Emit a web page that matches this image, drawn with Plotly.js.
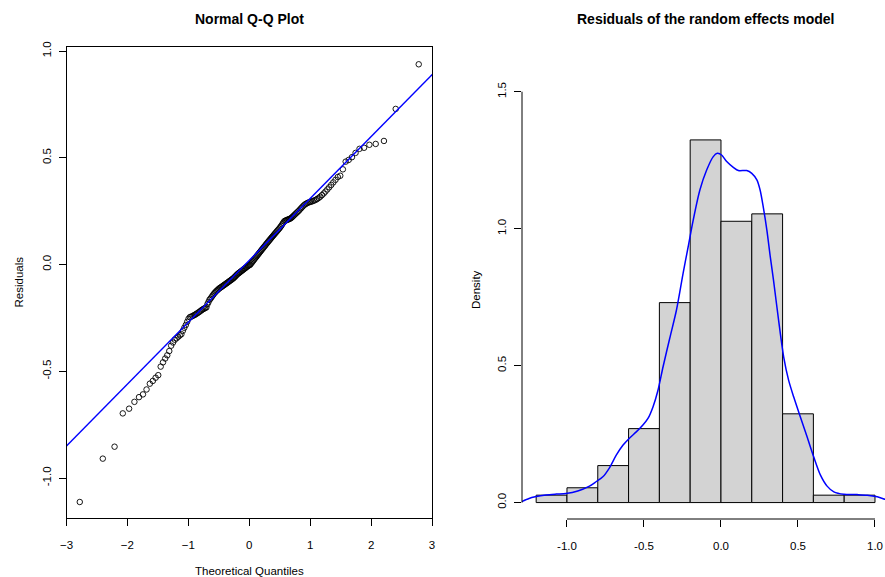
<!DOCTYPE html>
<html>
<head>
<meta charset="utf-8">
<script src="https://cdn.plot.ly/plotly-3.0.1.min.js"></script>
<style>html,body{margin:0;padding:0;background:#fff;}#chart{width:885px;height:577px;}</style>
</head>
<body>
<div id="chart"></div>
<script>
// ---- Q-Q plot data: theoretical normal quantiles and sorted residuals (n = 185) ----
var theoQuantiles = [
-2.782,-2.404,-2.211,-2.076,-1.972,-1.885,-1.810,-1.745,-1.686,-1.632,
-1.583,-1.537,-1.494,-1.454,-1.416,-1.380,-1.346,-1.313,-1.282,-1.251,
-1.222,-1.193,-1.166,-1.140,-1.114,-1.090,-1.066,-1.042,-1.019,-0.997,
-0.975,-0.953,-0.932,-0.911,-0.891,-0.871,-0.852,-0.832,-0.813,-0.794,
-0.776,-0.758,-0.740,-0.722,-0.704,-0.687,-0.670,-0.653,-0.637,-0.620,
-0.604,-0.588,-0.572,-0.556,-0.540,-0.524,-0.509,-0.494,-0.478,-0.463,
-0.448,-0.433,-0.418,-0.404,-0.389,-0.374,-0.360,-0.345,-0.331,-0.317,
-0.302,-0.288,-0.274,-0.260,-0.246,-0.232,-0.218,-0.204,-0.191,-0.177,
-0.163,-0.150,-0.136,-0.122,-0.109,-0.095,-0.081,-0.068,-0.054,-0.041,
-0.027,-0.014,0.000,
0.014,0.027,0.041,0.054,0.068,0.081,0.095,0.109,0.122,0.136,
0.150,0.163,0.177,0.191,0.204,0.218,0.232,0.246,0.260,0.274,
0.288,0.302,0.317,0.331,0.345,0.360,0.374,0.389,0.404,0.418,
0.433,0.448,0.463,0.478,0.494,0.509,0.524,0.540,0.556,0.572,
0.588,0.604,0.620,0.637,0.653,0.670,0.687,0.704,0.722,0.740,
0.758,0.776,0.794,0.813,0.832,0.852,0.871,0.891,0.911,0.932,
0.953,0.975,0.997,1.019,1.042,1.066,1.090,1.114,1.140,1.166,
1.193,1.222,1.251,1.282,1.313,1.346,1.380,1.416,1.454,1.494,
1.537,1.583,1.632,1.686,1.745,1.810,1.885,1.972,2.076,2.211,
2.404,2.782];

var residuals = [
-1.112,-0.909,-0.853,-0.697,-0.675,-0.643,-0.621,-0.608,-0.585,-0.558,
-0.545,-0.530,-0.518,-0.478,-0.458,-0.440,-0.425,-0.405,-0.380,-0.365,
-0.352,-0.345,-0.338,-0.332,-0.326,-0.310,-0.296,-0.283,-0.268,-0.254,
-0.246,-0.244,-0.241,-0.238,-0.235,-0.231,-0.228,-0.224,-0.220,-0.216,
-0.212,-0.209,-0.206,-0.203,-0.201,-0.186,-0.176,-0.165,-0.160,-0.153,
-0.146,-0.140,-0.134,-0.129,-0.124,-0.120,-0.116,-0.112,-0.109,-0.106,
-0.103,-0.100,-0.097,-0.094,-0.091,-0.088,-0.085,-0.082,-0.079,-0.076,
-0.073,-0.070,-0.067,-0.064,-0.060,-0.056,-0.052,-0.048,-0.044,-0.041,
-0.038,-0.035,-0.032,-0.029,-0.026,-0.023,-0.020,-0.017,-0.014,-0.011,
-0.008,-0.005,-0.003,-0.001,0.004,0.009,0.014,0.019,0.024,0.029,
0.034,0.039,0.044,0.049,0.054,0.059,0.064,0.069,0.074,0.079,
0.084,0.089,0.094,0.099,0.104,0.109,0.114,0.119,0.124,0.129,
0.134,0.139,0.144,0.149,0.154,0.159,0.164,0.169,0.175,0.181,
0.188,0.195,0.202,0.205,0.207,0.209,0.211,0.213,0.215,0.218,
0.222,0.227,0.232,0.237,0.242,0.247,0.252,0.258,0.264,0.270,
0.276,0.281,0.285,0.288,0.291,0.293,0.295,0.297,0.300,0.303,
0.307,0.312,0.318,0.325,0.333,0.342,0.352,0.362,0.373,0.385,
0.397,0.410,0.416,0.446,0.482,0.490,0.503,0.523,0.542,0.547,
0.561,0.565,0.579,0.729,0.938];

// ---- Histogram (density scale), bins of width 0.2 ----
var binLower = [-1.2,-1.0,-0.8,-0.6,-0.4,-0.2,0.0,0.2,0.4,0.6,0.8];
var binDensity = [0.027,0.054,0.135,0.270,0.730,1.324,1.027,1.054,0.324,0.027,0.027];
var binWidth = 0.2;

// ---- Kernel density curve ----
var densX = [-1.30,-1.246,-1.207,-1.137,-1.07,-1.007,-0.93,-0.854,-0.811,-0.767,-0.724,-0.680,-0.637,-0.593,-0.550,-0.507,-0.474,-0.441,-0.409,-0.376,-0.333,-0.289,-0.246,-0.213,-0.180,-0.137,-0.093,-0.050,-0.024,0.004,0.037,0.080,0.113,0.167,0.200,0.233,0.254,0.276,0.298,0.320,0.341,0.374,0.407,0.439,0.472,0.515,0.559,0.602,0.646,0.689,0.733,0.798,0.885,0.950,1.015,1.070,1.10];
var densY = [0.002,0.015,0.021,0.028,0.031,0.033,0.042,0.060,0.076,0.094,0.127,0.173,0.209,0.236,0.258,0.283,0.307,0.350,0.410,0.496,0.599,0.703,0.837,0.934,1.032,1.141,1.214,1.263,1.275,1.269,1.245,1.224,1.212,1.212,1.202,1.178,1.141,1.074,0.995,0.898,0.812,0.666,0.532,0.447,0.386,0.313,0.240,0.167,0.100,0.060,0.039,0.030,0.029,0.027,0.021,0.011,0.006];

var xTickVals1 = [-3,-2,-1,0,1,2,3];
var yTickVals1 = [-1,-0.5,0,0.5,1];
var yTickText1 = ["-1.0","-0.5","0.0","0.5","1.0"];
var xTickVals2 = [-1,-0.5,0,0.5,1];
var xTickText2 = ["-1.0","-0.5","0.0","0.5","1.0"];
var yTickVals2 = [0,0.5,1,1.5];
var yTickText2 = ["0.0","0.5","1.0","1.5"];

// qqline: through the first and third quartiles (type 7 quantiles)
function q7(arr, p){
  var s = arr.slice().sort(function(a,b){return a-b;});
  var h = (s.length-1)*p, lo = Math.floor(h), hi = Math.ceil(h);
  return s[lo] + (h-lo)*(s[hi]-s[lo]);
}
var zq = 0.6744897501960817;
var q1 = q7(residuals,0.25), q3 = q7(residuals,0.75);
var slope = (q3-q1)/(2*zq);
var intercept = q1 + slope*zq;
var lineX = [-3.2, 3.2];
var lineY = lineX.map(function(x){return intercept + slope*x;});

var W = 885, H = 577;
function px(x){return x/W;}
function py(y){return 1 - y/H;}

var font = {family:"Liberation Sans, Arial, Helvetica, sans-serif", size:11.5, color:"#000"};

var traces = [
  {type:"scatter", mode:"markers", x:theoQuantiles, y:residuals, xaxis:"x", yaxis:"y",
   marker:{symbol:"circle-open", size:5.5, color:"#000", line:{width:0.9, color:"#000"}},
   hoverinfo:"skip", showlegend:false},
  {type:"scatter", mode:"lines", x:lineX, y:lineY, xaxis:"x", yaxis:"y",
   line:{color:"#0000FF", width:1.4}, hoverinfo:"skip", showlegend:false},
  {type:"bar", x:binLower, y:binDensity, width:binWidth, offset:0, xaxis:"x2", yaxis:"y2",
   marker:{color:"#D3D3D3", line:{color:"#000", width:1}}, hoverinfo:"skip", showlegend:false},
  {type:"scatter", mode:"lines", x:densX, y:densY, xaxis:"x2", yaxis:"y2",
   line:{color:"#0000FF", width:1.5, shape:"spline", smoothing:0.8}, hoverinfo:"skip", showlegend:false}
];

var commonAxis = {showgrid:false, zeroline:false, ticks:"outside", ticklen:7, tickwidth:1,
  tickcolor:"#000", tickfont:font, fixedrange:true};

var layout = {
  width:W, height:H, margin:{l:0,r:0,t:0,b:0},
  paper_bgcolor:"#fff", plot_bgcolor:"#fff", font:font, showlegend:false, bargap:0,
  xaxis: Object.assign({}, commonAxis, {domain:[px(66.5), px(432)], range:[-3,3],
    tickvals:xTickVals1, tickmode:"array", showline:true, mirror:true, linecolor:"#000", linewidth:1,
    ticklabelstandoff:9, anchor:"y"}),
  yaxis: Object.assign({}, commonAxis, {domain:[py(518), py(47)], range:[-1.187, 1.019],
    tickvals:yTickVals1, ticktext:yTickText1, tickmode:"array", tickangle:-90,
    showline:true, mirror:true, linecolor:"#000", linewidth:1, ticklabelstandoff:3, anchor:"x"}),
  xaxis2: Object.assign({}, commonAxis, {domain:[px(522), 1], range:[-1.292, 1.065],
    tickvals:xTickVals2, ticktext:xTickText2, tickmode:"array", showline:false,
    ticklabelstandoff:9, anchor:"y2"}),
  yaxis2: Object.assign({}, commonAxis, {domain:[py(519), py(75)], range:[-0.060, 1.561],
    tickvals:yTickVals2, ticktext:yTickText2, tickmode:"array", tickangle:-90, showline:false,
    ticklabelstandoff:3, anchor:"x2"}),
  shapes:[
    {type:"line", xref:"x2", yref:"paper", x0:-1, x1:1, y0:py(519), y1:py(519), line:{color:"#000", width:1}},
    {type:"line", xref:"paper", yref:"y2", x0:px(522), x1:px(522), y0:0, y1:1.5, line:{color:"#000", width:1}}
  ],
  annotations:[
    {text:"<b>Normal Q-Q Plot</b>", x:px(249.5), y:py(19), xref:"paper", yref:"paper",
     showarrow:false, xanchor:"center", yanchor:"middle", font:{family:font.family, size:14, color:"#000"}},
    {text:"<b>Residuals of the random effects model</b>", x:px(706), y:py(19), xref:"paper", yref:"paper",
     showarrow:false, xanchor:"center", yanchor:"middle", font:{family:font.family, size:14, color:"#000"}},
    {text:"Theoretical Quantiles", x:px(249.5), y:py(571), xref:"paper", yref:"paper",
     showarrow:false, xanchor:"center", yanchor:"middle", font:font},
    {text:"Residuals", x:px(18), y:py(282.5), xref:"paper", yref:"paper", textangle:-90,
     showarrow:false, xanchor:"center", yanchor:"middle", font:font},
    {text:"Density", x:px(476), y:py(290), xref:"paper", yref:"paper", textangle:-90,
     showarrow:false, xanchor:"center", yanchor:"middle", font:font}
  ]
};

Plotly.newPlot("chart", traces, layout, {displayModeBar:false, staticPlot:true});
</script>
</body>
</html>
